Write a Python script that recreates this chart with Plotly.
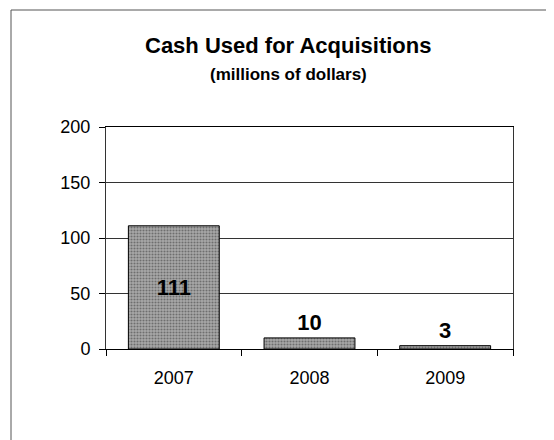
import plotly.graph_objects as go

years = ["2007", "2008", "2009"]
cash_used = [111, 10, 3]
bar_labels = ["111", "10", "3"]
y_ticks = [0, 50, 100, 150, 200]
title_text = "Cash Used for Acquisitions"
subtitle_text = "(millions of dollars)"

W, H = 554, 440
OFF = 8  # page body margin
# desired plot area in screen pixels
SX0, SX1, SY0, SY1 = 106, 513, 127, 349
L, T = SX0 - OFF, SY0 - OFF
R, B = W - (SX1 - OFF), H - (SY1 - OFF)
pw, ph = SX1 - SX0, SY1 - SY0

def px(x):
    return (x - SX0) / pw

def py(y):
    return (SY1 - y) / ph

fig = go.Figure()
fig.add_trace(go.Bar(
    x=years, y=cash_used,
    width=0.67,
    text=bar_labels,
    textposition=["inside", "outside", "outside"],
    insidetextanchor="middle",
    textfont=dict(family="Liberation Sans, Arial", size=22, color="black", weight="bold"),
    marker=dict(
        color="#a9a9a9",
        line=dict(color="black", width=1),
        pattern=dict(shape=".", fgcolor="#333333", size=3, solidity=0.4),
    ),
    cliponaxis=False,
))

fig.update_layout(
    width=W, height=H,
    margin=dict(l=L, r=R, t=T, b=B, pad=0),
    paper_bgcolor="white", plot_bgcolor="white",
    showlegend=False,
    font=dict(family="Liberation Sans, Arial", size=18, color="black"),
    xaxis=dict(
        type="category",
        tickson="boundaries",
        ticks="outside", ticklen=6, tickcolor="black",
        showline=True, linecolor="black", linewidth=1, mirror=True,
        showgrid=False,
        ticklabelstandoff=12,
        tickfont=dict(size=18),
    ),
    yaxis=dict(
        range=[0, 200],
        tickvals=y_ticks,
        ticks="outside", ticklen=6, tickcolor="black",
        showline=True, linecolor="#333", linewidth=1, mirror=True,
        showgrid=True, gridcolor="#333", gridwidth=1,
        zeroline=False,
        ticklabelstandoff=5,
        tickfont=dict(size=18),
    ),
    uniformtext=dict(minsize=22, mode="show"),
    annotations=[
        dict(text="<b>" + title_text + "</b>", xref="paper", yref="paper",
             x=px(288), y=py(45), xanchor="center", yanchor="middle",
             showarrow=False, font=dict(size=22, color="black")),
        dict(text="<b>" + subtitle_text + "</b>", xref="paper", yref="paper",
             x=px(288), y=py(74), xanchor="center", yanchor="middle",
             showarrow=False, font=dict(size=17, color="black")),
    ],
    shapes=[
        dict(type="rect", xref="paper", yref="paper",
             x0=px(11), x1=px(620), y0=py(10), y1=py(520),
             line=dict(color="#555", width=1), fillcolor="rgba(0,0,0,0)", layer="below"),
    ],
)

fig.write_html("out.html")
